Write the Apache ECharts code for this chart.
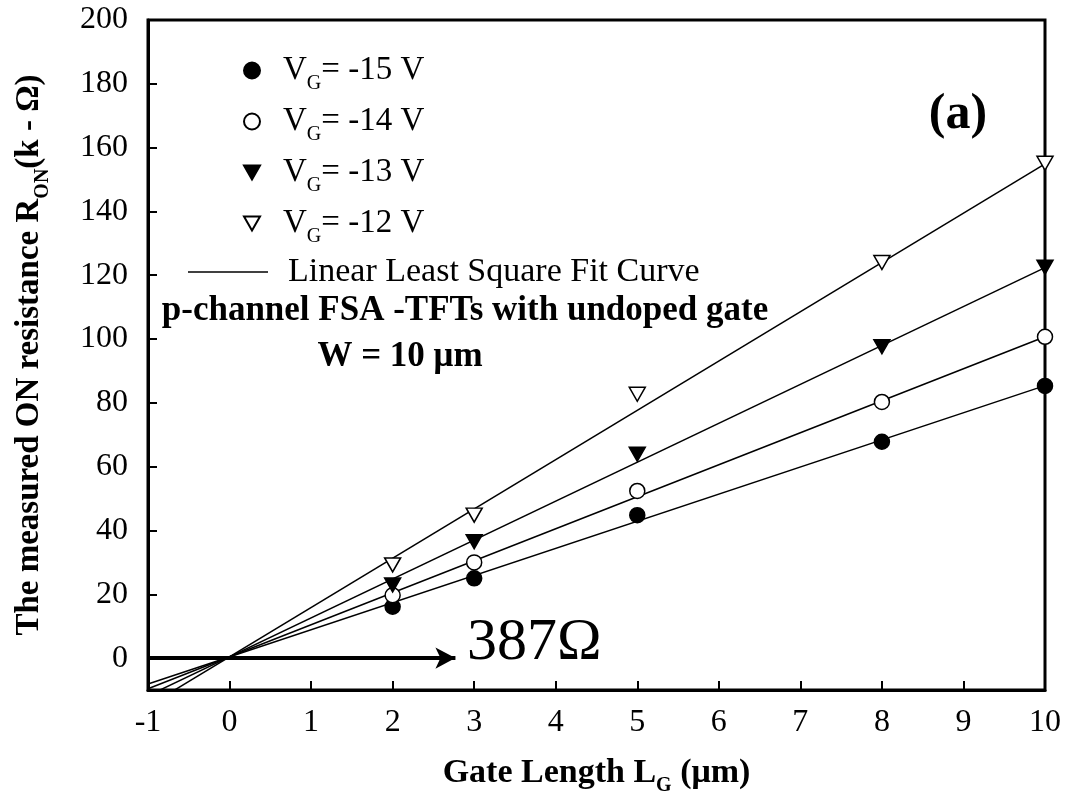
<!DOCTYPE html>
<html><head><meta charset="utf-8">
<script src="https://cdn.jsdelivr.net/npm/echarts@6/dist/echarts.min.js"></script>
<style>html,body{margin:0;padding:0;background:#fff}#c{width:1069px;height:811px}</style>
</head><body><div id="c"></div>
<script>
// ---- data ----
const gateLengths = [2, 3, 5, 8, 10];
const gateVoltages = ['-15', '-14', '-13', '-12'];
const ronVg15 = [16.1, 25.0, 44.8, 67.8, 85.3];
const ronVg14 = [19.7, 30.0, 52.4, 80.3, 100.7];
const ronVg13 = [22.9, 36.5, 63.9, 97.6, 122.5];
const ronVg12 = [29.2, 44.8, 82.7, 124.0, 155.1];
const fitX = [-1, 10];
const fitVg15 = [-8.1, 85.4];
const fitVg14 = [-9.6, 100.7];
const fitVg13 = [-11.8, 122.4];
const fitVg12 = [-15.05, 154.9];
const arrowX = [-1, 2.77];
const arrowY = [0, 0];
const yTickValues = [0, 20, 40, 60, 80, 100, 120, 140, 160, 180, 200];
const xRange = [-1, 10];
const yRange = [-10, 200];
const fitName = 'Linear Least Square Fit Curve';
const annotationText = '387\u03A9';

const FONT = '"Liberation Serif", "Times New Roman", serif';
const downTri = 'path://M0,0 L20,0 L10,17.5 Z';

function pairs(xs, ys) { return xs.map((x, i) => [x, ys[i]]); }

const markerStyles = [
  { symbol: 'circle', size: 15, fill: '#000' },
  { symbol: 'circle', size: 15, fill: '#fff' },
  { symbol: downTri, size: [16, 14], fill: '#000' },
  { symbol: downTri, size: [16, 14], fill: '#fff' }
];
const ronSets = [ronVg15, ronVg14, ronVg13, ronVg12];
const fitSets = [fitVg15, fitVg14, fitVg13, fitVg12];

const series = [];
fitSets.forEach((f) => {
  series.push({
    name: fitName, type: 'line', data: pairs(fitX, f),
    symbol: 'none', showSymbol: false, clip: true, silent: true,
    lineStyle: { color: '#000', width: 1.5 }, itemStyle: { color: '#000' }, z: 2
  });
});
ronSets.forEach((r, i) => {
  const m = markerStyles[i];
  series.push({
    name: gateVoltages[i], type: 'scatter', data: pairs(gateLengths, r),
    symbol: m.symbol, symbolSize: m.size, clip: false,
    itemStyle: { color: m.fill, borderColor: '#000', borderWidth: 1.5, opacity: 1 }, z: 5
  });
});
series.push({
  name: 'arrow', type: 'line', data: [], symbol: 'none', silent: true,
  markLine: {
    silent: true, symbol: ['none', 'arrow'], symbolSize: [16, 20],
    label: { show: false },
    lineStyle: { color: '#000', width: 4, type: 'solid' },
    data: [[{ coord: [arrowX[0], arrowY[0]] }, { coord: [arrowX[1], arrowY[1]] }]]
  }
});

const legendRich = {
  a: { fontFamily: FONT, fontSize: 33, color: '#000', verticalAlign: 'top', lineHeight: 33 },
  s: { fontFamily: FONT, fontSize: 20, color: '#000', verticalAlign: 'top', lineHeight: 20, padding: [20, 0, 0, 0] }
};

const option = {
  animation: false,
  backgroundColor: '#fff',
  grid: { left: 148, top: 20, right: 24, bottom: 121, show: true, borderColor: '#000', borderWidth: 3 },
  xAxis: {
    type: 'value', min: xRange[0], max: xRange[1], interval: 1,
    axisLine: { show: true, onZero: false, lineStyle: { color: '#000', width: 3 } },
    axisTick: { show: true, inside: true, length: 9, lineStyle: { color: '#000', width: 2 } },
    splitLine: { show: false },
    axisLabel: { fontFamily: FONT, fontSize: 32, color: '#000', margin: 17 },
    name: '{b|Gate Length L}{s|G}{b| (\u03BCm)}',
    nameLocation: 'middle', nameGap: 66,
    nameTextStyle: {
      fontFamily: FONT, fontSize: 34, fontWeight: 'bold', color: '#000',
      rich: {
        b: { fontFamily: FONT, fontSize: 34, fontWeight: 'bold', color: '#000', verticalAlign: 'top', lineHeight: 34 },
        s: { fontFamily: FONT, fontSize: 20, fontWeight: 'bold', color: '#000', verticalAlign: 'top', lineHeight: 20, padding: [20, 0, 0, 0] }
      }
    }
  },
  yAxis: {
    type: 'value', min: yRange[0], max: yRange[1],
    axisLine: { show: true, onZero: false, lineStyle: { color: '#000', width: 3 } },
    axisTick: { show: true, inside: true, length: 9, customValues: yTickValues, lineStyle: { color: '#000', width: 2 } },
    splitLine: { show: false },
    axisLabel: { fontFamily: FONT, fontSize: 32, color: '#000', margin: 20, customValues: yTickValues },
    name: '{b|The measured ON resistance R}{s|ON}{b|(k - \u03A9)}',
    nameLocation: 'middle', nameGap: 102, nameRotate: 90,
    nameTextStyle: {
      fontFamily: FONT, fontSize: 33, fontWeight: 'bold', color: '#000',
      rich: {
        b: { fontFamily: FONT, fontSize: 33, fontWeight: 'bold', color: '#000', verticalAlign: 'top', lineHeight: 33 },
        s: { fontFamily: FONT, fontSize: 20, fontWeight: 'bold', color: '#000', verticalAlign: 'top', lineHeight: 20, padding: [20, 0, 0, 0] }
      }
    }
  },
  legend: [
    {
      data: gateVoltages, orient: 'vertical', left: 238, top: 49,
      itemWidth: 16, itemHeight: 16, itemGap: 11, selectedMode: false,
      formatter: (n) => '{a|V}{s|G}{a|= ' + n + ' V}',
      textStyle: { fontFamily: FONT, fontSize: 33, color: '#000', padding: [0, 0, 0, 18], rich: legendRich }
    },
    {
      data: [{ name: fitName, icon: 'rect' }], orient: 'vertical', left: 183, top: 250,
      itemWidth: 80, itemHeight: 1.5, selectedMode: false,
      textStyle: { fontFamily: FONT, fontSize: 34, color: '#000', padding: [0, 0, 0, 15] }
    }
  ],
  graphic: [
    { type: 'text', x: 958, y: 115, style: { text: '(a)', font: 'bold 50px ' + FONT, fill: '#000', align: 'center', verticalAlign: 'middle' } },
    { type: 'text', x: 465, y: 311, style: { text: 'p-channel FSA -TFTs with undoped gate', font: 'bold 35px ' + FONT, fill: '#000', align: 'center', verticalAlign: 'middle' } },
    { type: 'text', x: 400, y: 357, style: { text: 'W = 10 \u03BCm', font: 'bold 35px ' + FONT, fill: '#000', align: 'center', verticalAlign: 'middle' } },
    { type: 'text', x: 467, y: 643, style: { text: annotationText, font: '60px ' + FONT, fill: '#000', align: 'left', verticalAlign: 'middle' } }
  ],
  series: series
};

const chart = echarts.init(document.getElementById('c'), null, { renderer: 'canvas' });
chart.setOption(option);
</script>
</body></html>
